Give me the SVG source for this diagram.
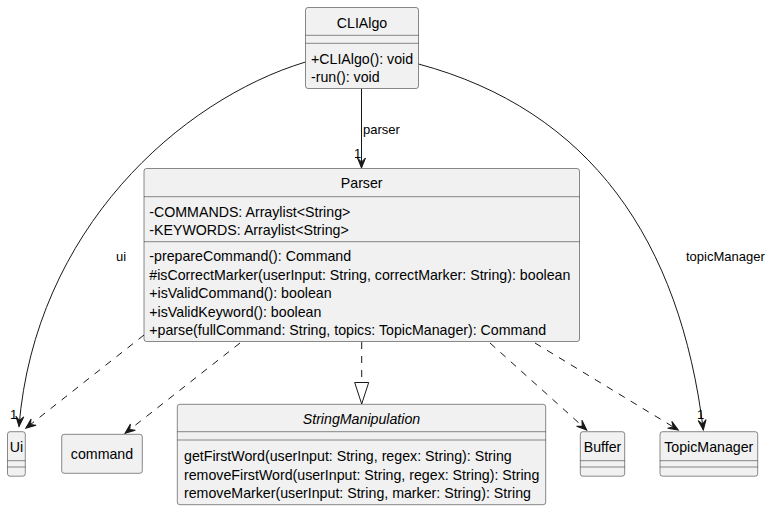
<svg xmlns="http://www.w3.org/2000/svg" width="770" height="510" viewBox="0 0 770 510">
<defs>
<style>
.box{fill:#F1F1F1;stroke:#181818;stroke-width:0.5}
.div{stroke:#181818;stroke-width:0.5;fill:none}
.t{font-family:"Liberation Sans",Arial,sans-serif;font-size:14.2px;fill:#000}
.c{text-anchor:middle}
.i{font-style:italic}
.lbl{font-family:"Liberation Sans",Arial,sans-serif;font-size:13px;fill:#000}
.ln{fill:none;stroke:#181818;stroke-width:1}
.dash{stroke-dasharray:7,7}
</style>
<marker id="arr" markerUnits="userSpaceOnUse" orient="auto" refX="0" refY="0" markerWidth="12" markerHeight="10" viewBox="-11 -5 12 10" overflow="visible">
<path d="M0,0 L-10,-4 L-6,0 L-10,4 Z" fill="#181818" stroke="#181818" stroke-width="1" stroke-dasharray="none"/>
</marker>
</defs>

<g id="connectors">
<path class="ln" d="M361.5,88.5 L361.5,168" marker-end="url(#arr)"/>
<path class="ln" d="M305.5,62 C180,100 35,230 19,426.5" marker-end="url(#arr)"/>
<path class="ln" d="M418.5,64 C590,110 680,240 703.3,430" marker-end="url(#arr)"/>
<path class="ln dash" d="M144,335 L25.7,428.3" marker-end="url(#arr)"/>
<path class="ln dash" d="M240,343 L125,433.3" marker-end="url(#arr)"/>
<path class="ln dash" d="M490,343 L586.7,430" marker-end="url(#arr)"/>
<path class="ln dash" d="M535,343 L678.3,430" marker-end="url(#arr)"/>
<path class="ln dash" d="M361.7,342 L361.7,382.5"/>
<polygon points="354.7,382.5 368.7,382.5 361.7,404" fill="none" stroke="#181818" stroke-width="1"/>
<text class="lbl" x="363" y="134">parser</text>
<text class="lbl" x="354" y="158">1</text>
<text class="lbl" x="10" y="419">1</text>
<text class="lbl" x="116" y="261">ui</text>
<text class="lbl" x="686" y="261">topicManager</text>
<text class="lbl" x="697" y="419">1</text>
</g>

<g id="CLIAlgo">
<rect class="box" x="305.5" y="7.5" width="113" height="81" rx="2.5"/>
<line class="div" x1="305.5" y1="35.3" x2="418.5" y2="35.3"/>
<line class="div" x1="305.5" y1="43.3" x2="418.5" y2="43.3"/>
<text class="t c" x="362" y="28">CLIAlgo</text>
<text class="t" x="311" y="63.5">+CLIAlgo(): void</text>
<text class="t" x="311" y="81.5">-run(): void</text>
</g>

<g id="Parser">
<rect class="box" x="144" y="168.5" width="435.5" height="173" rx="2.5"/>
<line class="div" x1="144" y1="196.7" x2="579.5" y2="196.7"/>
<line class="div" x1="144" y1="241.7" x2="579.5" y2="241.7"/>
<text class="t c" x="361.7" y="188">Parser</text>
<text class="t" x="149.3" y="216.5">-COMMANDS: Arraylist&lt;String&gt;</text>
<text class="t" x="149.3" y="234.5">-KEYWORDS: Arraylist&lt;String&gt;</text>
<text class="t" x="149.3" y="261">-prepareCommand(): Command</text>
<text class="t" x="149.3" y="279.5">#isCorrectMarker(userInput: String, correctMarker: String): boolean</text>
<text class="t" x="149.3" y="298">+isValidCommand(): boolean</text>
<text class="t" x="149.3" y="316.5">+isValidKeyword(): boolean</text>
<text class="t" x="149.3" y="335">+parse(fullCommand: String, topics: TopicManager): Command</text>
</g>

<g id="Ui">
<rect class="box" x="7.5" y="431.7" width="17.8" height="44.5" rx="2.5"/>
<line class="div" x1="7.5" y1="460.7" x2="25.3" y2="460.7"/>
<line class="div" x1="7.5" y1="467" x2="25.3" y2="467"/>
<text class="t c" x="16.4" y="452">Ui</text>
</g>

<g id="command">
<rect class="box" x="61.7" y="434.3" width="80.6" height="39" rx="2.5"/>
<text class="t c" x="102" y="459">command</text>
</g>

<g id="StringManipulation">
<rect class="box" x="177.3" y="404.3" width="368.4" height="100.4" rx="2.5"/>
<line class="div" x1="177.3" y1="431.7" x2="545.7" y2="431.7"/>
<line class="div" x1="177.3" y1="440" x2="545.7" y2="440"/>
<text class="t c i" x="361.5" y="423.5">StringManipulation</text>
<text class="t" x="184" y="461">getFirstWord(userInput: String, regex: String): String</text>
<text class="t" x="184" y="479.5">removeFirstWord(userInput: String, regex: String): String</text>
<text class="t" x="184" y="498">removeMarker(userInput: String, marker: String): String</text>
</g>

<g id="Buffer">
<rect class="box" x="580.3" y="431.7" width="44.4" height="44.5" rx="2.5"/>
<line class="div" x1="580.3" y1="460.7" x2="624.7" y2="460.7"/>
<line class="div" x1="580.3" y1="467" x2="624.7" y2="467"/>
<text class="t c" x="602.5" y="452">Buffer</text>
</g>

<g id="TopicManager">
<rect class="box" x="660" y="431.7" width="97.7" height="44.5" rx="2.5"/>
<line class="div" x1="660" y1="460.7" x2="757.7" y2="460.7"/>
<line class="div" x1="660" y1="467" x2="757.7" y2="467"/>
<text class="t c" x="708.8" y="452">TopicManager</text>
</g>
</svg>
